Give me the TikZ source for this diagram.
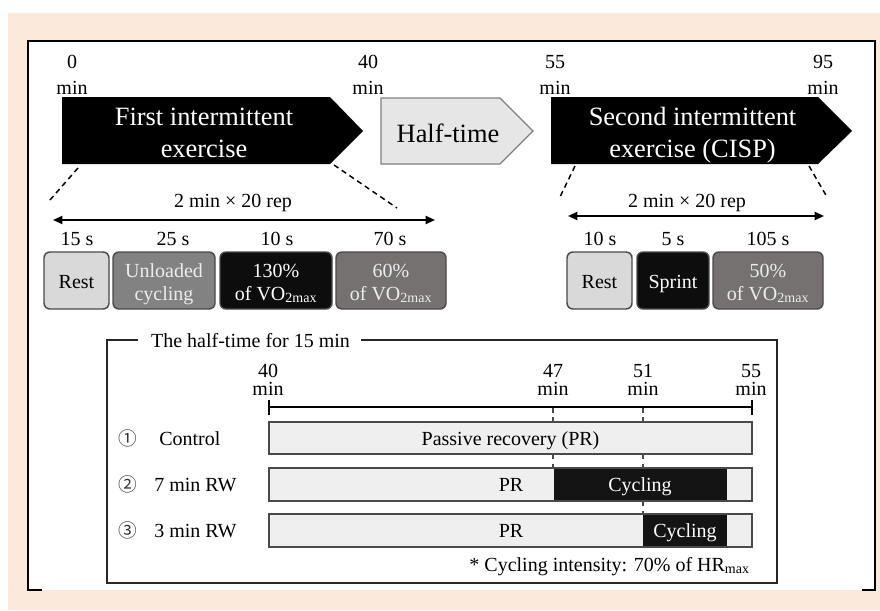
\documentclass[tikz,border=0pt]{standalone}
\usepackage{fontspec}
\setmainfont{Liberation Serif}
\newfontfamily\circfont{Noto Sans CJK JP}
\usetikzlibrary{arrows.meta}
\definecolor{peach}{HTML}{FBE9DB}
\definecolor{lightbox}{HTML}{D9D9D9}
\definecolor{midbox}{HTML}{828282}
\definecolor{darkbox}{HTML}{767171}
\definecolor{halfgray}{HTML}{E6E6E6}
\definecolor{barfill}{HTML}{EFEFEF}
\definecolor{edgegray}{HTML}{4A4A4A}
\definecolor{softtext}{HTML}{EDEDED}
\begin{document}
\begin{tikzpicture}[x=0.75pt,y=-0.75pt,
  txt/.style={font=\fontsize{15}{18}\selectfont, inner sep=0pt, anchor=base},
  bigtxt/.style={font=\fontsize{19.8}{24}\selectfont, inner sep=0pt, anchor=base, text=white},
  boxnode/.style={draw=edgegray, line width=1.1pt, rounded corners=4.5pt, inner sep=0pt, minimum height=42.75pt},
  guide/.style={line width=1.1pt, dash pattern=on 4pt off 3pt},
  vguide/.style={line width=0.9pt, draw=edgegray, dash pattern=on 3.5pt off 3.5pt},
  dblarrow/.style={line width=1.5pt, {Triangle[length=7pt,width=6pt]}-{Triangle[length=7pt,width=6pt]}},
  barbox/.style={fill=barfill, draw=edgegray, line width=1.1pt},
  framebox/.style={line width=1.5pt, draw=black!85},
  circnum/.style={font=\circfont\fontsize{14}{16}\selectfont, inner sep=0pt, text=black!80}]
\useasboundingbox (0,0) rectangle (880,610);
% background
\fill[white] (0,0) rectangle (880,610);
\fill[peach] (8,13) rectangle (880,610);
\fill[white] (28,41) rectangle (876,590);
\draw[line width=1.3pt] (42,590) -- (28,590) -- (28,41) -- (875,41) -- (875,590) -- (862,590);

% top time labels
\node[txt] (t0a) at (72,69) {0};
\node[txt] (t0b) at (72,94) {min};
\node[txt] (t40a) at (368,69) {40};
\node[txt] (t40b) at (368,94) {min};
\node[txt] (t55a) at (555,69) {55};
\node[txt] (t55b) at (555,94) {min};
\node[txt] (t95a) at (823,69) {95};
\node[txt] (t95b) at (823,94) {min};

% pentagons
\fill[black] (62,97) -- (330,97) -- (363,131) -- (330,164) -- (62,164) -- cycle;
\filldraw[fill=halfgray, draw=black!50, line width=1pt] (381,98) -- (500,98) -- (533,131) -- (500,164) -- (381,164) -- cycle;
\fill[black] (551,97) -- (818,97) -- (852,131) -- (818,164) -- (551,164) -- cycle;
\node[bigtxt] (f1) at (204,125) {First intermittent};
\node[bigtxt] (f2) at (204,157) {exercise};
\node[bigtxt, text=black] (ht) at (448,142) {Half-time};
\node[bigtxt] (s1) at (692.5,125) {Second intermittent};
\node[bigtxt] (s2) at (692.5,157) {exercise (CISP)};

% dashed guides
\coordinate (d1a) at (78,168);  \coordinate (d1b) at (50,200);
\coordinate (d2a) at (334,165); \coordinate (d2b) at (397,208);
\coordinate (d3a) at (575,166); \coordinate (d3b) at (559,199);
\coordinate (d4a) at (809,166); \coordinate (d4b) at (827,197);
\draw[guide] (d1a) -- (d1b);
\draw[guide] (d2a) -- (d2b);
\draw[guide] (d3a) -- (d3b);
\draw[guide] (d4a) -- (d4b);

% repetition arrows
\node[txt] (rep1) at (233,207) {2 min × 20 rep};
\node[txt] (rep2) at (687,207) {2 min × 20 rep};
\coordinate (a1l) at (53,220); \coordinate (a1r) at (435,220);
\coordinate (a2l) at (568,216); \coordinate (a2r) at (824,216);
\draw[dblarrow] (a1l) -- (a1r);
\draw[dblarrow] (a2l) -- (a2r);

% durations
\node[txt] (du1) at (77,245) {15 s};
\node[txt] (du2) at (173,245) {25 s};
\node[txt] (du3) at (277,245) {10 s};
\node[txt] (du4) at (390,245) {70 s};
\node[txt] (du5) at (600,245) {10 s};
\node[txt] (du6) at (673,245) {5 s};
\node[txt] (du7) at (768,245) {105 s};

% phase boxes
\node[boxnode, fill=lightbox, minimum width=48.75pt] (b1) at (76.5,280.5) {};
\node[boxnode, fill=midbox, minimum width=76.5pt] (b2) at (164,280.5) {};
\node[boxnode, fill=black!95, minimum width=84pt] (b3) at (276,280.5) {};
\node[boxnode, fill=darkbox, minimum width=82.5pt] (b4) at (391,280.5) {};
\node[boxnode, fill=lightbox, minimum width=48.75pt] (b5) at (599.5,280.5) {};
\node[boxnode, fill=black!95, minimum width=54pt] (b6) at (673,280.5) {};
\node[boxnode, fill=darkbox, minimum width=82.5pt] (b7) at (768,280.5) {};

\node[txt] (x1) at (76.5,288) {Rest};
\node[txt, text=softtext] (x2a) at (164,277) {Unloaded};
\node[txt, text=softtext] (x2b) at (164,300) {cycling};
\node[txt, text=white] (x3a) at (276,277) {130\%};
\node[txt, text=white] (x3b) at (276,300) {of VO\textsubscript{2max}};
\node[txt, text=softtext] (x4a) at (391,277) {60\%};
\node[txt, text=softtext] (x4b) at (391,300) {of VO\textsubscript{2max}};
\node[txt] (x5) at (599.5,288) {Rest};
\node[txt, text=white] (x6) at (673,288) {Sprint};
\node[txt, text=softtext] (x7a) at (768,277) {50\%};
\node[txt, text=softtext] (x7b) at (768,300) {of VO\textsubscript{2max}};

% half-time panel
\draw[framebox] (138,340) -- (107,340) -- (107,583) -- (777,583) -- (777,340) -- (361,340);
\node[txt] (htt) at (250.5,347) {The half-time for 15 min};

\node[txt] (m40a) at (268,377) {40};
\node[txt] (m40b) at (268,395) {min};
\node[txt] (m47a) at (553,377) {47};
\node[txt] (m47b) at (553,395) {min};
\node[txt] (m51a) at (643,377) {51};
\node[txt] (m51b) at (643,395) {min};
\node[txt] (m55a) at (751,377) {55};
\node[txt] (m55b) at (751,395) {min};

% guides behind bars
\coordinate (g47t) at (553,408); \coordinate (g47b) at (553,468);
\coordinate (g51t) at (643,408); \coordinate (g51b) at (643,514);
\draw[vguide] (g47t) -- (g47b);
\draw[vguide] (g51t) -- (g51b);

% timeline
\coordinate (tl) at (269,407); \coordinate (tr) at (752,407);
\draw[line width=1.5pt] (tl) -- (tr);
\draw[line width=1.5pt] (269,400) -- (269,415);
\draw[line width=1.5pt] (752,400) -- (752,415);

% bars
\draw[barbox] (269,422) rectangle (752,454);
\fill[barfill] (269,468) rectangle (752,501);
\fill[black!92] (554,468) rectangle (727,501);
\draw[draw=edgegray, line width=1.1pt] (269,468) rectangle (752,501);
\fill[barfill] (269,514) rectangle (752,547);
\fill[black!92] (643,514) rectangle (727,547);
\draw[draw=edgegray, line width=1.1pt] (269,514) rectangle (752,547);

\node[txt] (pr0) at (510.5,445) {Passive recovery (PR)};
\node[txt] (pr1) at (511,491) {PR};
\node[txt, text=white] (cy1) at (640,491) {Cycling};
\node[txt] (pr2) at (511,537) {PR};
\node[txt, text=white] (cy2) at (685,537) {Cycling};

% row labels
\node[circnum] (c1) at (128,438) {①};
\node[circnum] (c2) at (128,484) {②};
\node[circnum] (c3) at (128,530) {③};
\node[txt, anchor=base west] (l1) at (159,445) {Control};
\node[txt, anchor=base west] (l2) at (154,491) {7 min RW};
\node[txt, anchor=base west] (l3) at (154,537) {3 min RW};

\node[txt, anchor=base east] (fn) at (750,571) {* Cycling intensity: 70\% of HR\textsubscript{max}};
\end{tikzpicture}
\end{document}
